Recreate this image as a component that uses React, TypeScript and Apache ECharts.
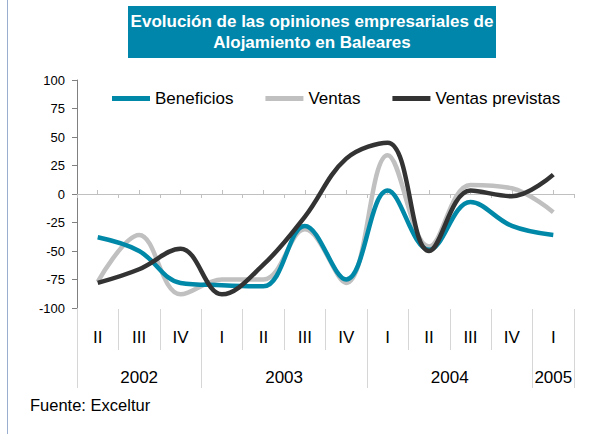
import React, { useEffect, useRef } from "react";
import * as echarts from "echarts";

const QUARTERS = ["II", "III", "IV", "I", "II", "III", "IV", "I", "II", "III", "IV", "I"];
const QUARTER_YEARS = ["2002", "2002", "2002", "2003", "2003", "2003", "2003", "2004", "2004", "2004", "2004", "2005"];

const BENEFICIOS = [-38, -50, -78, -80, -81, -28, -75, 3, -49, -7, -28, -36];
const VENTAS = [-77, -36, -88, -75, -75, -31, -78, 34, -46, 8, 5, -16];
const VENTAS_PREVISTAS = [-78, -66, -48, -88, -62, -20, 31, 45, -50, 3, -2, 17];

const SERIES_NAMES = ["Beneficios", "Ventas", "Ventas previstas"];
const Y_TICKS = { min: -100, max: 100, interval: 25 };

const TITLE = "Evolución de las opiniones empresariales de\nAlojamiento en Baleares";
const SOURCE = "Fuente: Exceltur";

const FONT = "'Liberation Sans', Arial, Helvetica, sans-serif";
const SMOOTH = 0.38;

export default function App() {
  const ref = useRef<HTMLDivElement>(null);

  useEffect(() => {
    if (!ref.current) return;
    const chart = echarts.init(ref.current, null, { renderer: "svg" });

    const categories = QUARTERS.map((q, i) => `${q} ${QUARTER_YEARS[i]}`);
    const years: string[] = [];
    const bounds: number[] = [0];
    QUARTER_YEARS.forEach((y, i) => {
      if (i === 0 || y !== QUARTER_YEARS[i - 1]) {
        if (i > 0) bounds.push(i);
        years.push(y);
      }
    });
    bounds.push(QUARTER_YEARS.length);
    const centers = years.map((_, i) => (bounds[i] + bounds[i + 1]) / 2);

    const lineColor = "#c0c0c0";
    const sepColor = "#d6d6d6";

    chart.setOption({
      animation: false,
      textStyle: { fontFamily: FONT },
      graphic: [
        {
          type: "line",
          shape: { x1: 7.5, y1: 0, x2: 7.5, y2: 434 },
          style: { stroke: "#9aaed0", lineWidth: 1 },
        },
        {
          type: "rect",
          shape: { x: 128, y: 6, width: 368, height: 52 },
          style: { fill: "#0086ab" },
        },
        {
          type: "text",
          x: 312,
          y: 32,
          style: {
            text: TITLE,
            fill: "#ffffff",
            font: `bold 17px ${FONT}`,
            lineHeight: 21,
            align: "center",
            verticalAlign: "middle",
          },
        },
        {
          type: "text",
          x: 30,
          y: 405,
          style: {
            text: SOURCE,
            fill: "#000000",
            font: `16.5px ${FONT}`,
            align: "left",
            verticalAlign: "middle",
          },
        },
      ],
      legend: {
        data: SERIES_NAMES,
        left: 112,
        top: 90,
        padding: 0,
        itemWidth: 38,
        itemHeight: 5,
        itemGap: 32,
        icon: "rect",
        textStyle: { fontSize: 17, color: "#000", fontFamily: FONT },
      },
      grid: { left: 77, top: 80, width: 497, height: 228 },
      xAxis: [
        {
          type: "category",
          data: categories,
          boundaryGap: true,
          position: "bottom",
          axisLine: { show: true, onZero: true, onZeroAxisIndex: 0, lineStyle: { color: lineColor, width: 1 } },
          axisTick: { show: true, interval: 0, length: 4, inside: false, lineStyle: { color: lineColor } },
          axisLabel: { show: false },
          splitLine: { show: false },
        },
        {
          type: "category",
          data: categories,
          boundaryGap: true,
          position: "bottom",
          axisLine: { show: false, onZero: true, onZeroAxisIndex: 0 },
          axisTick: { show: true, interval: 0, alignWithLabel: true, length: 4, inside: true, lineStyle: { color: lineColor } },
          axisLabel: { show: false },
          splitLine: { show: false },
        },
        {
          type: "category",
          data: categories,
          boundaryGap: true,
          position: "bottom",
          offset: 1,
          axisLine: { show: false, onZero: false },
          axisTick: { show: true, interval: 0, length: 41, lineStyle: { color: sepColor } },
          axisLabel: {
            show: true,
            interval: 0,
            margin: 20,
            fontSize: 17,
            color: "#000",
            fontFamily: FONT,
            formatter: (v: string) => v.split(" ")[0],
          },
          splitLine: { show: false },
        },
        {
          type: "value",
          min: 0,
          max: QUARTER_YEARS.length,
          position: "bottom",
          offset: 1,
          axisLine: { show: false, onZero: false },
          axisTick: { show: true, customValues: bounds, length: 79, lineStyle: { color: sepColor } },
          axisLabel: {
            show: true,
            customValues: centers,
            margin: 60,
            fontSize: 17,
            color: "#000",
            fontFamily: FONT,
            formatter: (v: number) => {
              const idx = centers.findIndex((c) => Math.abs(c - v) < 1e-6);
              return idx >= 0 ? years[idx] : "";
            },
          },
          splitLine: { show: false },
        },
      ],
      yAxis: {
        type: "value",
        min: Y_TICKS.min,
        max: Y_TICKS.max,
        interval: Y_TICKS.interval,
        axisLine: { show: true, onZero: false, lineStyle: { color: "#808080", width: 1 } },
        axisTick: { show: true, length: 5, lineStyle: { color: "#808080" } },
        axisLabel: { fontSize: 13, color: "#000", margin: 12, fontFamily: FONT },
        splitLine: { show: false },
      },
      series: [
        {
          name: SERIES_NAMES[0],
          type: "line",
          data: BENEFICIOS,
          smooth: SMOOTH,
          showSymbol: false,
          symbol: "none",
          z: 3,
          itemStyle: { color: "#0088a8" },
          lineStyle: { color: "#0088a8", width: 4.5 },
        },
        {
          name: SERIES_NAMES[1],
          type: "line",
          data: VENTAS,
          smooth: SMOOTH,
          showSymbol: false,
          symbol: "none",
          z: 2,
          itemStyle: { color: "#c0c0c0" },
          lineStyle: { color: "#c0c0c0", width: 4.5 },
        },
        {
          name: SERIES_NAMES[2],
          type: "line",
          data: VENTAS_PREVISTAS,
          smooth: SMOOTH,
          showSymbol: false,
          symbol: "none",
          z: 4,
          itemStyle: { color: "#333333" },
          lineStyle: { color: "#333333", width: 4.5 },
        },
      ],
    });

    return () => chart.dispose();
  }, []);

  return (
    <div
      ref={ref}
      style={{ position: "fixed", left: 0, top: 0, width: 615, height: 434, background: "#fff" }}
    />
  );
}
